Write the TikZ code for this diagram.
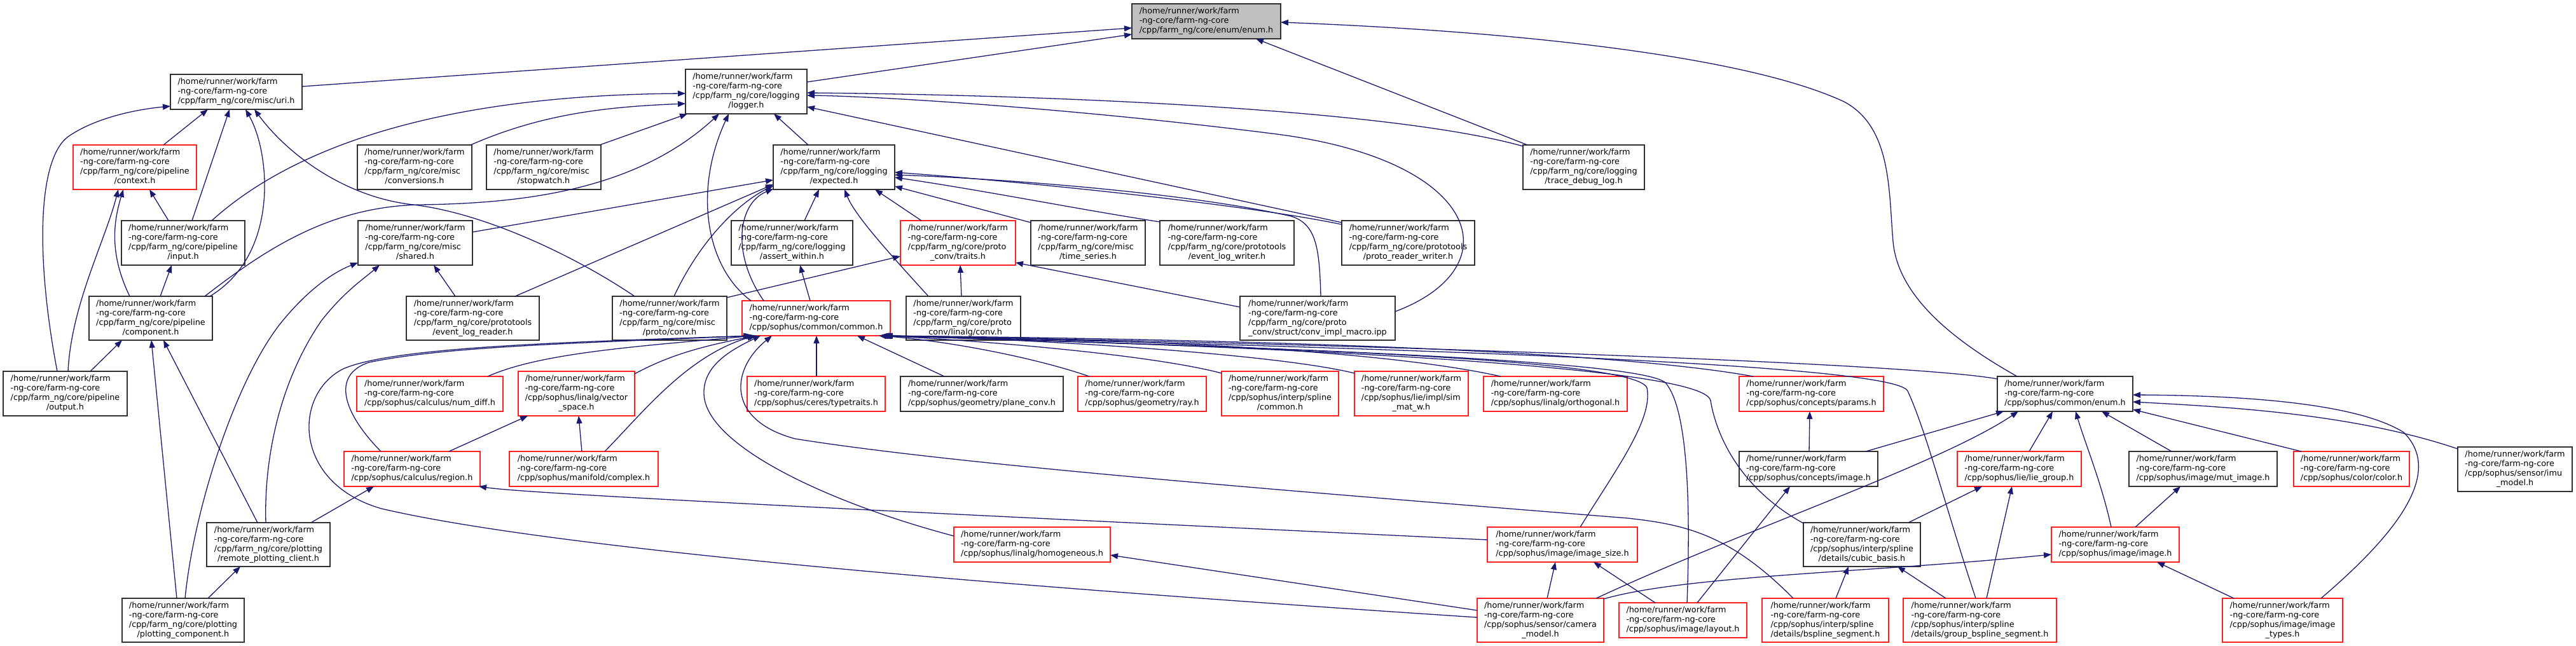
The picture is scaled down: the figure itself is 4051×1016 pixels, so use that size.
\documentclass[tikz,border=0pt]{standalone}
\usepackage{fontspec}
\setmainfont{DejaVu Sans}
\usetikzlibrary{arrows.meta}
\definecolor{edgeblue}{HTML}{191970}
\definecolor{nodered}{HTML}{FF2020}
\definecolor{nodeblack}{HTML}{303030}
\definecolor{fillgray}{HTML}{BFBFBF}
\newcommand{\Lfour}[2]{\begin{tabular}{@{}l@{}}/home/runner/work/farm\\-ng-core/farm-ng-core\\#1\\\multicolumn{1}{@{}c@{}}{#2}\end{tabular}}
\newcommand{\Lthree}[1]{\begin{tabular}{@{}l@{}}/home/runner/work/farm\\-ng-core/farm-ng-core\\\multicolumn{1}{@{}c@{}}{#1}\end{tabular}}
\newcommand{\gnode}[7]{\node[#6, minimum width={(#4-#2)*1pt}, minimum height={(#5-#3)*1pt}] (#1) at ({(#2+#4)/2},{(#3+#5)/2}) {#7};}
\tikzset{
  nb/.style={draw=nodeblack, line width=1.6pt, fill=white, inner sep=0pt, outer sep=0pt, text=black, font=\fontsize{12.8pt}{15pt}\selectfont},
  nr/.style={nb, draw=nodered},
  ng/.style={nb, fill=fillgray},
  edge/.style={draw=edgeblue, line width=1.3pt, -{Triangle[length=12pt,width=9pt]}},
}
\begin{document}
\begin{tikzpicture}[x=1pt,y=-1pt]
\fill[white] (0,0) rectangle (4051,1016);
\useasboundingbox (0,0) rectangle (4051,1016);
% row 0-1
\gnode{E}{1780}{6}{2014}{61}{ng}{\Lthree{/cpp/farm\_ng/core/enum/enum.h}}
\gnode{uri}{268}{117}{475}{172}{nb}{\Lthree{/cpp/farm\_ng/core/misc/uri.h}}
\gnode{logger}{1078}{109}{1269}{179}{nb}{\Lfour{/cpp/farm\_ng/core/logging}{/logger.h}}
% row 2
\gnode{context}{115}{228}{309}{298}{nr}{\Lfour{/cpp/farm\_ng/core/pipeline}{/context.h}}
\gnode{conv}{562}{228}{742}{298}{nb}{\Lfour{/cpp/farm\_ng/core/misc}{/conversions.h}}
\gnode{stopw}{765}{228}{945}{298}{nb}{\Lfour{/cpp/farm\_ng/core/misc}{/stopwatch.h}}
\gnode{expected}{1216}{228}{1407}{298}{nb}{\Lfour{/cpp/farm\_ng/core/logging}{/expected.h}}
\gnode{trace}{2395}{228}{2586}{298}{nb}{\Lfour{/cpp/farm\_ng/core/logging}{/trace\_debug\_log.h}}
% row 3
\gnode{input}{191}{347}{385}{417}{nb}{\Lfour{/cpp/farm\_ng/core/pipeline}{/input.h}}
\gnode{shared}{563}{347}{743}{417}{nb}{\Lfour{/cpp/farm\_ng/core/misc}{/shared.h}}
\gnode{assertw}{1150}{347}{1341}{417}{nb}{\Lfour{/cpp/farm\_ng/core/logging}{/assert\_within.h}}
\gnode{traits}{1416}{347}{1597}{417}{nr}{\Lfour{/cpp/farm\_ng/core/proto}{\_conv/traits.h}}
\gnode{tseries}{1621}{347}{1801}{417}{nb}{\Lfour{/cpp/farm\_ng/core/misc}{/time\_series.h}}
\gnode{elw}{1824}{347}{2035}{417}{nb}{\Lfour{/cpp/farm\_ng/core/prototools}{/event\_log\_writer.h}}
\gnode{prw}{2110}{347}{2319}{417}{nb}{\Lfour{/cpp/farm\_ng/core/prototools}{/proto\_reader\_writer.h}}
% row 4
\gnode{comp}{140}{466}{334}{535}{nb}{\Lfour{/cpp/farm\_ng/core/pipeline}{/component.h}}
\gnode{elr}{639}{466}{848}{535}{nb}{\Lfour{/cpp/farm\_ng/core/prototools}{/event\_log\_reader.h}}
\gnode{mconv}{963}{466}{1143}{535}{nb}{\Lfour{/cpp/farm\_ng/core/misc}{/proto/conv.h}}
\gnode{common}{1167}{473}{1400}{528}{nr}{\Lthree{/cpp/sophus/common/common.h}}
\gnode{lconv}{1425}{466}{1605}{535}{nb}{\Lfour{/cpp/farm\_ng/core/proto}{\_conv/linalg/conv.h}}
\gnode{macro}{1950}{466}{2194}{535}{nb}{\Lfour{/cpp/farm\_ng/core/proto}{\_conv/struct/conv\_impl\_macro.ipp}}
% row 5
\gnode{output}{5}{584}{200}{654}{nb}{\Lfour{/cpp/farm\_ng/core/pipeline}{/output.h}}
\gnode{numdiff}{561}{592}{791}{647}{nr}{\Lthree{/cpp/sophus/calculus/num\_diff.h}}
\gnode{vspace}{815}{584}{998}{654}{nr}{\Lfour{/cpp/sophus/linalg/vector}{\_space.h}}
\gnode{ttraits}{1175}{592}{1392}{647}{nr}{\Lthree{/cpp/sophus/ceres/typetraits.h}}
\gnode{plane}{1416}{592}{1672}{647}{nb}{\Lthree{/cpp/sophus/geometry/plane\_conv.h}}
\gnode{ray}{1695}{592}{1897}{647}{nr}{\Lthree{/cpp/sophus/geometry/ray.h}}
\gnode{splc}{1921}{584}{2105}{654}{nr}{\Lfour{/cpp/sophus/interp/spline}{/common.h}}
\gnode{simw}{2130}{584}{2309}{654}{nr}{\Lfour{/cpp/sophus/lie/impl/sim}{\_mat\_w.h}}
\gnode{ortho}{2333}{592}{2559}{647}{nr}{\Lthree{/cpp/sophus/linalg/orthogonal.h}}
\gnode{params}{2735}{592}{2962}{647}{nr}{\Lthree{/cpp/sophus/concepts/params.h}}
\gnode{senum}{3141}{592}{3354}{647}{nb}{\Lthree{/cpp/sophus/common/enum.h}}
% row 6
\gnode{region}{541}{710}{755}{765}{nr}{\Lthree{/cpp/sophus/calculus/region.h}}
\gnode{complex}{801}{710}{1035}{765}{nr}{\Lthree{/cpp/sophus/manifold/complex.h}}
\gnode{cimage}{2735}{710}{2953}{765}{nb}{\Lthree{/cpp/sophus/concepts/image.h}}
\gnode{lie}{3078}{710}{3273}{765}{nr}{\Lthree{/cpp/sophus/lie/lie\_group.h}}
\gnode{mut}{3348}{710}{3581}{765}{nb}{\Lthree{/cpp/sophus/image/mut\_image.h}}
\gnode{color}{3607}{710}{3789}{765}{nr}{\Lthree{/cpp/sophus/color/color.h}}
\gnode{imu}{3865}{703}{4045}{773}{nb}{\Lfour{/cpp/sophus/sensor/imu}{\_model.h}}
% row 7
\gnode{remote}{325}{822}{519}{891}{nb}{\Lfour{/cpp/farm\_ng/core/plotting}{/remote\_plotting\_client.h}}
\gnode{homog}{1500}{829}{1746}{884}{nr}{\Lthree{/cpp/sophus/linalg/homogeneous.h}}
\gnode{isize}{2339}{829}{2575}{884}{nr}{\Lthree{/cpp/sophus/image/image\_size.h}}
\gnode{cubic}{2836}{822}{3020}{891}{nb}{\Lfour{/cpp/sophus/interp/spline}{/details/cubic\_basis.h}}
\gnode{image}{3226}{829}{3427}{884}{nr}{\Lthree{/cpp/sophus/image/image.h}}
% row 8
\gnode{plotc}{192}{941}{384}{1010}{nb}{\Lfour{/cpp/farm\_ng/core/plotting}{/plotting\_component.h}}
\gnode{camera}{2323}{941}{2522}{1010}{nr}{\Lfour{/cpp/sophus/sensor/camera}{\_model.h}}
\gnode{layout}{2546}{948}{2747}{1003}{nr}{\Lthree{/cpp/sophus/image/layout.h}}
\gnode{bspl}{2771}{941}{2970}{1010}{nr}{\Lfour{/cpp/sophus/interp/spline}{/details/bspline\_segment.h}}
\gnode{gbspl}{2993}{941}{3234}{1010}{nr}{\Lfour{/cpp/sophus/interp/spline}{/details/group\_bspline\_segment.h}}
\gnode{itypes}{3495}{941}{3684}{1010}{nr}{\Lfour{/cpp/sophus/image/image}{\_types.h}}

% ---- edges into core enum.h
\draw[edge] ([yshift=-19]uri.north east) -- ([yshift=-38]E.north west);
\draw[edge] ([yshift=-20]logger.north east) -- ([yshift=-48]E.north west);
\draw[edge] ([xshift=7]trace.north west) -- ([xshift=195]E.south west);
\draw[edge] ([xshift=31]senum.north west) .. controls (3080,540) and (2985,470) .. (2977,380) .. controls (2970,300) and (2975,200) .. (2900,160) .. controls (2750,90) and (2400,50) .. ([yshift=-29]E.north east);
% ---- uri
\draw[edge] ([xshift=142]context.north west) -- ([xshift=59]uri.south west);
\draw[edge] ([xshift=111]input.north west) -- ([xshift=93]uri.south west);
\draw[edge] ([xshift=190]comp.north west) .. controls (440,400) and (425,240) .. ([xshift=118]uri.south west);
\draw[edge] ([xshift=35]mconv.north west) .. controls (900,400) and (760,335) .. (650,322) .. controls (540,310) and (450,240) .. ([xshift=132]uri.south west);
\draw[edge] ([xshift=85]output.north west) .. controls (55,400) and (60,250) .. (107,215) .. controls (150,185) and (215,172) .. ([yshift=-50]uri.north west);
% ---- context, input, component
\draw[edge] ([xshift=102]output.north west) .. controls (112,480) and (165,380) .. ([xshift=71]context.south west);
\draw[edge] ([xshift=64]comp.north west) .. controls (172,400) and (178,350) .. ([xshift=79]context.south west);
\draw[edge] ([xshift=74]input.north west) -- ([xshift=120]context.south west);
\draw[edge] ([xshift=112]comp.north west) -- ([xshift=79]input.south west);
\draw[edge] ([xshift=137]output.north west) -- ([xshift=52]comp.south west);
\draw[edge] ([xshift=86]plotc.north west) -- ([xshift=98]comp.south west);
\draw[edge] ([xshift=80]remote.north west) -- ([xshift=117]comp.south west);
% ---- logger
\draw[edge] ([xshift=142]input.north west) .. controls (440,250) and (650,150) .. ([yshift=-38]logger.north west);
\draw[edge] ([xshift=178]conv.north west) .. controls (850,180) and (950,168) .. ([yshift=-54]logger.north west);
\draw[edge] ([xshift=178]stopw.north west) -- ([xshift=3]logger.south west);
\draw[edge] ([xshift=182]comp.north west) .. controls (420,390) and (520,325) .. (660,322) .. controls (820,320) and (1000,300) .. ([xshift=53]logger.south west);
\draw[edge] ([yshift=-2]trace.north west) .. controls (2200,175) and (1700,150) .. ([yshift=-37]logger.north east);
\draw[edge] ([yshift=-24]macro.north east) .. controls (2380,420) and (2330,250) .. (2000,210) .. controls (1700,172) and (1400,152) .. ([yshift=-41]logger.north east);
\draw[edge] ([yshift=-3]prw.north west) -- ([yshift=-59]logger.north east);
\draw[edge] ([xshift=55]expected.north west) -- ([xshift=139]logger.south west);
\draw[edge] ([xshift=14]common.north west) .. controls (1110,420) and (1090,300) .. ([xshift=68]logger.south west);
% ---- expected
\draw[edge] ([yshift=-18]shared.north east) -- ([yshift=-55]expected.north west);
\draw[edge] ([xshift=171]elr.north west) -- ([yshift=-62]expected.north west);
\draw[edge] ([xshift=97]mconv.north west) .. controls (1100,380) and (1160,320) .. ([yshift=-64]expected.north west);
\draw[edge] ([xshift=34]common.north west) .. controls (1150,400) and (1160,320) .. ([yshift=-69]expected.north west);
\draw[edge] ([xshift=115]assertw.north west) -- ([xshift=72]expected.south west);
\draw[edge] ([xshift=35]lconv.north west) .. controls (1400,400) and (1345,340) .. ([xshift=112]expected.south west);
\draw[edge] ([xshift=33]traits.north west) -- ([xshift=160]expected.south west);
\draw[edge] ([yshift=-3]tseries.north west) -- ([yshift=-65]expected.north east);
\draw[edge] ([yshift=-2]elw.north west) .. controls (1700,330) and (1550,300) .. ([yshift=-51]expected.north east);
\draw[edge] ([yshift=-6]prw.north west) .. controls (1950,320) and (1600,285) .. ([yshift=-43]expected.north east);
\draw[edge] ([xshift=127]macro.north west) .. controls (2075,390) and (2070,352) .. (2030,340) .. controls (1850,300) and (1550,280) .. ([yshift=-47]expected.north east);
% ---- traits, assert_within
\draw[edge] ([yshift=-2]mconv.north east) -- ([yshift=-56]traits.north west);
\draw[edge] ([xshift=87]lconv.north west) -- ([xshift=94]traits.south west);
\draw[edge] ([yshift=-17]macro.north west) -- ([yshift=-66]traits.north east);
\draw[edge] ([xshift=107]common.north west) -- ([xshift=108]assertw.south west);
% ---- common.h
\draw[edge] ([xshift=109]ttraits.north west) -- ([xshift=117]common.south west);
\draw[edge] ([xshift=69]plane.north west) -- ([xshift=181]common.south west);
\draw[edge] ([xshift=18]ray.north west) .. controls (1620,560) and (1480,535) .. ([xshift=215]common.south west);
\draw[edge] ([yshift=-3]splc.north west) .. controls (1800,555) and (1500,533) .. ([xshift=217]common.south west);
\draw[edge] ([yshift=-3]simw.north west) .. controls (2000,555) and (1600,532) .. ([xshift=218]common.south west);
\draw[edge] ([xshift=27]ortho.north west) .. controls (2150,545) and (1700,532) .. ([xshift=219]common.south west);
\draw[edge] ([xshift=22]params.north west) .. controls (2500,545) and (1800,532) .. ([xshift=220]common.south west);
\draw[edge] ([xshift=146]isize.north west) .. controls (2540,740) and (2600,660) .. (2590,610) .. controls (2570,560) and (1900,545) .. ([xshift=221]common.south west);
\draw[edge] ([xshift=107]layout.north west) .. controls (2660,760) and (2650,640) .. (2620,603) .. controls (2590,565) and (1950,545) .. ([xshift=222]common.south west);
\draw[edge] ([yshift=-1]cubic.north west) .. controls (2740,770) and (2700,690) .. (2690,630) .. controls (2680,575) and (2000,545) .. ([xshift=223]common.south west);
\draw[edge] ([xshift=114]gbspl.north west) .. controls (3060,800) and (3030,680) .. (3000,615) .. controls (2980,570) and (2100,545) .. ([xshift=224]common.south west);
\draw[edge] ([yshift=-4]senum.north west) .. controls (3000,570) and (2100,540) .. ([xshift=225]common.south west);
\draw[edge] ([xshift=49]bspl.north west) .. controls (2720,840) and (2650,825) .. (2560,815) .. controls (2000,770) and (1500,730) .. (1250,690) .. controls (1140,660) and (1150,580) .. ([xshift=47]common.south west);
\draw[edge] ([yshift=-14]homog.north west) .. controls (1300,790) and (1110,700) .. (1107,620) .. controls (1105,575) and (1150,550) .. ([xshift=29]common.south west);
\draw[edge] ([yshift=-30]camera.north west) .. controls (1700,930) and (900,870) .. (600,800) .. controls (460,760) and (460,620) .. (540,580) .. controls (620,545) and (900,538) .. ([xshift=14]common.south west);
\draw[edge] ([xshift=58]region.north west) .. controls (540,650) and (520,590) .. (580,570) .. controls (700,545) and (900,540) .. ([xshift=16]common.south west);
\draw[edge] ([xshift=206]numdiff.north west) .. controls (850,555) and (1000,545) .. ([xshift=18]common.south west);
\draw[edge] ([yshift=-4]vspace.north east) .. controls (1050,560) and (1100,545) .. ([xshift=23]common.south west);
\draw[edge] ([xshift=150]complex.north west) .. controls (1010,650) and (1080,560) .. ([xshift=20]common.south west);
% ---- region, vector_space, shared
\draw[edge] ([xshift=165]region.north west) -- ([xshift=15]vspace.south west);
\draw[edge] ([xshift=114]complex.north west) -- ([xshift=95]vspace.south west);
\draw[edge] ([yshift=-20]isize.north west) .. controls (1200,795) and (820,775) .. ([xshift=212]region.south west);
\draw[edge] ([xshift=164]remote.north west) -- ([xshift=47]region.south west);
\draw[edge] ([xshift=135]plotc.north west) -- ([xshift=53]remote.south west);
\draw[edge] ([xshift=99]plotc.north west) .. controls (305,800) and (370,600) .. (440,510) .. controls (480,460) and (520,430) .. ([yshift=-66]shared.north west);
\draw[edge] ([xshift=93]remote.north west) .. controls (415,720) and (440,600) .. (505,505) .. controls (540,460) and (570,440) .. ([xshift=34]shared.south west);
\draw[edge] ([xshift=77]elr.north west) -- ([xshift=119]shared.south west);
% ---- sophus image / spline part
\draw[edge] ([yshift=-19]camera.north west) -- ([yshift=-44]homog.north east);
\draw[edge] ([xshift=110]camera.north west) -- ([xshift=107]isize.south west);
\draw[edge] ([xshift=57]layout.north west) -- ([xshift=167]isize.south west);
\draw[edge] ([xshift=123]layout.north west) -- ([xshift=80]cimage.south west);
\draw[edge] ([xshift=110]cimage.north west) -- ([xshift=111]params.south west);
\draw[edge] ([xshift=199]cimage.north west) -- ([xshift=10]senum.south west);
\draw[edge] ([xshift=187]camera.north west) .. controls (2750,830) and (3050,730) .. ([xshift=33]senum.south west);
\draw[edge] ([yshift=-1]camera.north east) .. controls (2650,905) and (2950,900) .. ([yshift=-43]image.north west);
\draw[edge] ([xshift=165]cubic.north west) -- ([xshift=39]lie.south west);
\draw[edge] ([xshift=116]bspl.north west) -- ([xshift=71]cubic.south west);
\draw[edge] ([xshift=67]gbspl.north west) -- ([xshift=148]cubic.south west);
\draw[edge] ([xshift=131]gbspl.north west) -- ([xshift=86]lie.south west);
\draw[edge] ([xshift=113]lie.north west) -- ([xshift=87]senum.south west);
\draw[edge] ([xshift=94]image.north west) .. controls (3305,760) and (3280,700) .. ([xshift=123]senum.south west);
\draw[edge] ([xshift=132]image.north west) -- ([xshift=81]mut.south west);
\draw[edge] ([xshift=67]mut.north west) -- ([xshift=164]senum.south west);
\draw[edge] ([xshift=12]color.north west) -- ([yshift=-52]senum.north east);
\draw[edge] ([yshift=-3]imu.north west) .. controls (3700,650) and (3500,640) .. ([yshift=-40]senum.north east);
\draw[edge] ([xshift=155]itypes.north west) .. controls (3780,830) and (3840,740) .. (3780,680) .. controls (3700,630) and (3500,622) .. ([yshift=-29]senum.north east);
\draw[edge] ([xshift=18]itypes.north west) -- ([xshift=166]image.south west);
\end{tikzpicture}
\end{document}
